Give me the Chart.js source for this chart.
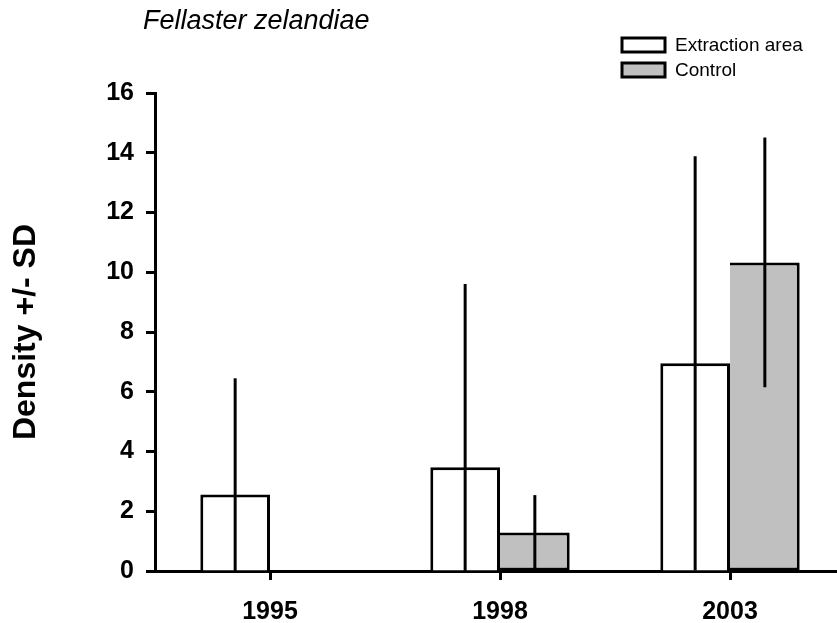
<!DOCTYPE html>
<html>
<head>
<meta charset="utf-8">
<script src="https://cdn.jsdelivr.net/npm/chart.js@4.4.0/dist/chart.umd.min.js"></script>
<style>
  html, body { margin: 0; padding: 0; background: #fff; overflow: hidden; }
  #wrap { width: 846px; height: 623px; }
</style>
</head>
<body>
<div id="wrap"><canvas id="densityChart" width="846" height="623"></canvas></div>
<script>
const years = ["1995", "1998", "2003"];
const extractionMean = [2.56, 3.47, 6.95];
const extractionSD = [3.89, 6.14, 6.93];
const controlMean = [0, 1.29, 10.33];
const controlSD = [0, 1.25, 4.18];
const yTicks = [0, 2, 4, 6, 8, 10, 12, 14, 16];

const FONT = "'Liberation Sans', Arial, sans-serif";

// error bars: plain vertical line, lower end clipped at zero, no caps
const errorBars = {
  id: "errorBars",
  afterDatasetsDraw(chart) {
    const { ctx, scales } = chart;
    ctx.save();
    ctx.strokeStyle = "#000";
    ctx.lineWidth = 3;
    chart.data.datasets.forEach((ds, i) => {
      const meta = chart.getDatasetMeta(i);
      meta.data.forEach((bar, j) => {
        const sd = ds.sd[j];
        if (!sd) return;
        const v = ds.data[j];
        const top = scales.y.getPixelForValue(v + sd);
        const bottom = scales.y.getPixelForValue(Math.max(0, v - sd));
        ctx.beginPath();
        ctx.moveTo(bar.x, bottom);
        ctx.lineTo(bar.x, top);
        ctx.stroke();
      });
    });
    ctx.restore();
  },
};

// species name and the small box legend
const headerAndLegend = {
  id: "headerAndLegend",
  afterDraw(chart) {
    const { ctx } = chart;
    ctx.save();
    ctx.fillStyle = "#000";
    ctx.font = "italic 27px " + FONT;
    ctx.textBaseline = "alphabetic";
    ctx.textAlign = "left";
    ctx.fillText("Fellaster zelandiae", 143, 29);

    const rows = [45, 70];
    chart.data.datasets.forEach((ds, i) => {
      const cy = rows[i];
      ctx.fillStyle = ds.backgroundColor;
      ctx.fillRect(622, cy - 7, 43, 14);
      ctx.strokeStyle = "#000";
      ctx.lineWidth = 3;
      ctx.strokeRect(622, cy - 7, 43, 14);
      ctx.fillStyle = "#000";
      ctx.font = "19px " + FONT;
      ctx.textBaseline = "middle";
      ctx.fillText(ds.label, 675, cy + 1);
    });
    ctx.restore();
  },
};

new Chart(document.getElementById("densityChart"), {
  type: "bar",
  data: {
    labels: years,
    datasets: [
      {
        label: "Extraction area",
        data: extractionMean,
        sd: extractionSD,
        backgroundColor: "#ffffff",
        borderColor: "#000",
        borderWidth: 3,
        borderSkipped: "bottom",
      },
      {
        label: "Control",
        data: controlMean,
        sd: controlSD,
        backgroundColor: "#c0c0c0",
        borderColor: "#000",
        borderWidth: 3,
        borderSkipped: "left",
      },
    ],
  },
  options: {
    responsive: false,
    animation: false,
    datasets: {
      bar: { barPercentage: 1, categoryPercentage: 0.606 },
    },
    layout: { padding: { top: 93, left: 0, right: 1, bottom: 0 } },
    plugins: {
      legend: { display: false },
      tooltip: { enabled: false },
    },
    scales: {
      x: {
        z: 1,
        border: { display: true, color: "#000", width: 3 },
        grid: {
          offset: false,
          drawOnChartArea: false,
          drawTicks: true,
          tickLength: 9,
          tickWidth: 3,
          tickColor: "#000",
        },
        ticks: {
          color: "#000",
          padding: 17,
          font: { family: FONT, size: 25, weight: "bold" },
        },
        afterFit: (scale) => {
          scale.height = 52;
        },
      },
      y: {
        z: 1,
        min: 0,
        max: 16,
        afterBuildTicks: (scale) => {
          scale.ticks = yTicks.map((v) => ({ value: v }));
        },
        border: { display: true, color: "#000", width: 3 },
        grid: {
          drawOnChartArea: false,
          drawTicks: true,
          tickLength: 9,
          tickWidth: 3,
          tickColor: "#000",
        },
        ticks: {
          color: "#000",
          padding: 12,
          font: { family: FONT, size: 25, weight: "bold" },
        },
        title: {
          display: true,
          text: "Density +/- SD",
          color: "#000",
          padding: { top: 7, bottom: 0 },
          font: { family: FONT, size: 32, weight: "bold" },
        },
        afterFit: (scale) => {
          scale.width = 155;
        },
      },
    },
  },
  plugins: [errorBars, headerAndLegend],
});
</script>
</body>
</html>
